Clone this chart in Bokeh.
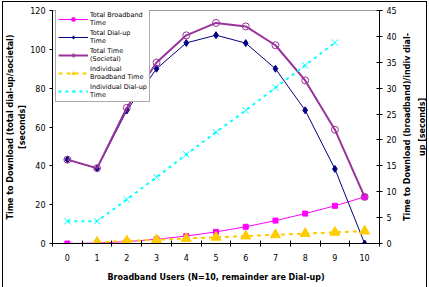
from bokeh.plotting import figure
from bokeh.layouts import row
from bokeh.models import Range1d, LinearAxis, FixedTicker, Legend, LegendItem
from bokeh.embed import file_html
from bokeh.resources import INLINE

users = [0, 1, 2, 3, 4, 5, 6, 7, 8, 9, 10]
x_labels = ["0", "1", "2", "3", "4", "5", "6", "7", "8", "9", "10"]
total_broadband = [0.0, 0.24, 0.96, 2.2, 3.8, 6.0, 8.6, 11.8, 15.4, 19.4, 24.0]
total_dialup = [43.2, 38.6, 68.5, 90.0, 103.3, 107.3, 103.2, 90.0, 68.6, 38.4, 0.0]
total_time = [43.2, 38.8, 69.9, 93.2, 107.2, 113.6, 111.8, 102.1, 84.0, 58.6, 24.0]
indiv_bb_users = [1, 2, 3, 4, 5, 6, 7, 8, 9, 10]
indiv_broadband = [0.24, 0.48, 0.72, 0.96, 1.2, 1.44, 1.68, 1.92, 2.16, 2.4]
indiv_du_users = [0, 1, 2, 3, 4, 5, 6, 7, 8, 9]
indiv_dialup = [4.3, 4.3, 8.5, 12.8, 17.2, 21.5, 25.7, 30.1, 34.4, 38.8]

FONT = "DejaVu Sans"
TICK_FS = "8px"
TITLE_FS = "8px"

p = figure(width=397, height=285, output_backend="svg", toolbar_location=None,
           x_range=Range1d(-0.5, 10.5), y_range=Range1d(0, 120),
           min_border_left=48, min_border_right=21, min_border_top=8, min_border_bottom=44)
p.extra_y_ranges = {"right": Range1d(0, 45)}
p.grid.visible = False
p.outline_line_color = "#999999"
p.background_fill_color = "white"
p.border_fill_color = "white"

# x axis
xa = p.xaxis[0]
xa.ticker = FixedTicker(ticks=users, minor_ticks=[i - 0.5 for i in range(12)])
xa.major_label_overrides = {i: s for i, s in zip(users, x_labels)}
xa.major_tick_out = 0
xa.major_tick_in = 0
xa.minor_tick_out = 3
xa.minor_tick_in = 3
xa.axis_label = "Broadband Users (N=10, remainder are Dial-up)"
xa.axis_label_standoff = 9
xa.major_label_standoff = 7

# left axis
ya = p.yaxis[0]
ya.ticker = FixedTicker(ticks=[0, 20, 40, 60, 80, 100, 120])
ya.minor_tick_out = 0
ya.minor_tick_in = 0
ya.major_tick_out = 3
ya.major_tick_in = 0
ya.major_label_standoff = 4
ya.axis_label = "Time to Download (total dial-up/societal)\n[seconds]"
ya.axis_label_standoff = 0
ya.axis_label_text_line_height = 1.35

# right axis
ra = LinearAxis(y_range_name="right", ticker=FixedTicker(ticks=list(range(0, 50, 5))))
ra.minor_tick_out = 0
ra.minor_tick_in = 0
ra.major_tick_out = 3
ra.major_tick_in = 3
ra.major_label_standoff = 4
p.add_layout(ra, "right")

for ax in (xa, ya, ra):
    ax.axis_line_color = "black"
    ax.major_tick_line_color = "black"
    ax.minor_tick_line_color = "black"
    ax.major_label_text_color = "black"
    ax.axis_label_text_color = "black"
    ax.axis_label_text_font = FONT
    ax.axis_label_text_font_style = "bold"
    ax.axis_label_text_font_size = TITLE_FS
    ax.major_label_text_font = FONT
    ax.major_label_text_font_size = TICK_FS

MAG = "#FF00FF"
NAVY = "#000080"
PURP = "#993399"
GOLD = "#FFCC00"
CYAN = "#00FFFF"

r1l = p.line(users, total_broadband, line_color=MAG, line_width=1)
r1m = p.scatter(users, total_broadband, marker="square", size=5, fill_color=MAG, line_color=MAG)
r2l = p.line(users, total_dialup, line_color=NAVY, line_width=1)
r2m = p.scatter(users, total_dialup, marker="diamond", size=7, fill_color=NAVY, line_color=NAVY)
r3l = p.line(users, total_time, line_color=PURP, line_width=2)
r3m = p.scatter(users, total_time, marker="circle", size=7, fill_color=None, line_color=PURP, line_width=1)
r4l = p.line(indiv_bb_users, indiv_broadband, line_color=GOLD, line_width=2, line_dash="4 4", y_range_name="right")
r4m = p.scatter(indiv_bb_users, indiv_broadband, marker="triangle", size=10, fill_color=GOLD, line_color=GOLD, y_range_name="right")
r5l = p.line(indiv_du_users, indiv_dialup, line_color=CYAN, line_width=2, line_dash="3 4", y_range_name="right")
r5m = p.scatter(indiv_du_users, indiv_dialup, marker="x", size=9, line_color=CYAN, line_width=1, y_range_name="right")

legend = Legend(items=[
    LegendItem(label="Total Broadband\nTime", renderers=[r1l, r1m]),
    LegendItem(label="Total Dial-up\nTime", renderers=[r2l, r2m]),
    LegendItem(label="Total Time\n(Societal)", renderers=[r3l, r3m]),
    LegendItem(label="Individual\nBroadband Time", renderers=[r4l, r4m]),
    LegendItem(label="Individual Dial-up\nTime", renderers=[r5l, r5m]),
], location=(3, 141))
legend.label_text_font = FONT
legend.label_text_font_size = "6.5px"
legend.label_text_color = "black"
legend.label_text_line_height = 1.2
legend.label_text_baseline = "top"
legend.label_height = 8
legend.glyph_width = 30
legend.glyph_height = 8
legend.spacing = 2
legend.padding = 2
legend.margin = 0
legend.label_standoff = 2
legend.border_line_color = "#555555"
legend.background_fill_color = "white"
p.add_layout(legend, "center")

# right-hand title, drawn as the (left) axis label of a narrow companion panel
p2 = figure(width=26, height=285, output_backend="svg", toolbar_location=None,
            x_range=Range1d(0, 1), y_range=Range1d(0, 45),
            min_border_left=0, min_border_right=0, min_border_top=8, min_border_bottom=44)
p2.grid.visible = False
p2.xaxis.visible = False
p2.outline_line_color = None
p2.background_fill_color = "white"
p2.border_fill_color = "white"
ta = p2.yaxis[0]
ta.ticker = FixedTicker(ticks=[])
ta.axis_line_color = None
ta.major_tick_line_color = None
ta.minor_tick_line_color = None
ta.major_tick_out = 0
ta.major_label_standoff = 0
ta.axis_label = "Time to Download (broadband)/indiv dial-\nup [seconds]"
ta.axis_label_standoff = 0
ta.axis_label_text_font = FONT
ta.axis_label_text_font_style = "bold"
ta.axis_label_text_font_size = TITLE_FS
ta.axis_label_text_line_height = 1.6
ta.axis_label_text_color = "black"

layout = row(p, p2, spacing=0)
layout.styles = {"border-left": "1px solid black", "border-top": "1px solid black",
                 "border-right": "1px solid black", "margin-left": "2px", "margin-top": "1px"}

open("out.html", "w").write(file_html(layout, INLINE))
